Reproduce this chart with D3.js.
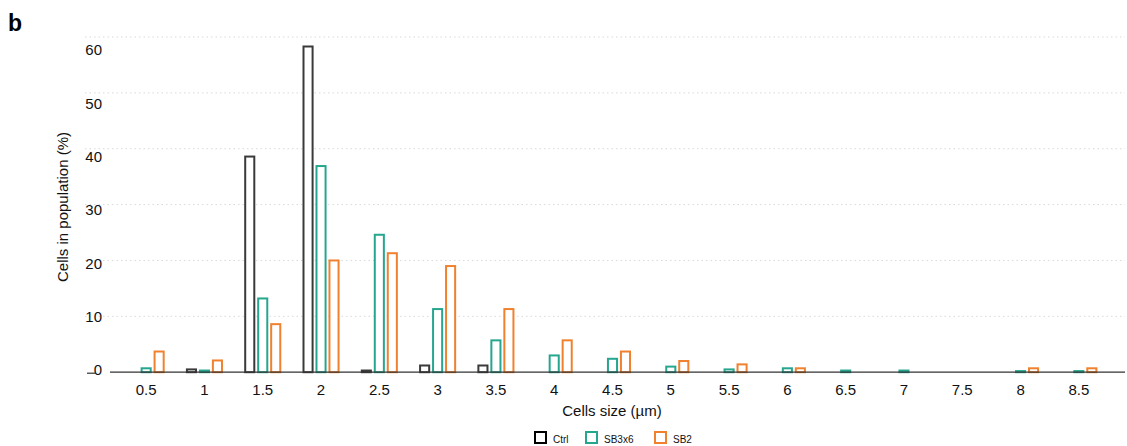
<!DOCTYPE html>
<html>
<head>
<meta charset="utf-8">
<script src="https://cdn.jsdelivr.net/npm/d3@7"></script>
<style>
  body { margin: 0; background: #fff; }
  text { font-family: "Liberation Sans", Arial, Helvetica, sans-serif; }
</style>
</head>
<body>
<div id="chart"></div>
<script>
// Data
var sizes = ["0.5", "1", "1.5", "2", "2.5", "3", "3.5", "4", "4.5", "5", "5.5", "6", "6.5", "7", "7.5", "8", "8.5"];
var seriesNames = ["Ctrl", "SB3x6", "SB2"];
var ctrl  = [0, 0.5, 38.6, 58.3, 0.3, 1.2, 1.2, 0, 0, 0, 0, 0, 0, 0, 0, 0, 0];
var sb3x6 = [0.7, 0.3, 13.2, 36.9, 24.6, 11.3, 5.7, 3.0, 2.4, 1.0, 0.5, 0.7, 0.3, 0.3, 0, 0.2, 0.2];
var sb2   = [3.7, 2.1, 8.6, 20.0, 21.3, 19.0, 11.3, 5.7, 3.7, 2.0, 1.4, 0.7, 0, 0, 0, 0.7, 0.7];
var yTicks = [0, 10, 20, 30, 40, 50, 60];
var colors = ["#3a3a3a", "#27a68f", "#f0812f"];

var svgWidth = 1127;
var svgHeight = 446;

var svg = d3.select("#chart")
  .append("svg")
  .attr("width", svgWidth)
  .attr("height", svgHeight);

// build rows
var values = [ctrl, sb3x6, sb2];
var data = sizes.map(function(s, i) {
  return { size: s, vals: seriesNames.map(function(n, j) { return { name: n, value: values[j][i], idx: j }; }) };
});

// scales
var x0 = d3.scaleBand()
  .domain(sizes)
  .range([117, 1108])
  .paddingInner(0.33)
  .paddingOuter(0.165);

var x1 = d3.scaleBand()
  .domain(seriesNames)
  .range([2, x0.bandwidth() - 2])
  .paddingInner(0.3);

var yScale = d3.scaleLinear()
  .domain([0, 60])
  .range([372.2, 37]);

// tick labels sit on their own spacing in the figure
var yLabelScale = d3.scaleLinear()
  .domain([0, 60])
  .range([370, 50]);

// gridlines
svg.append("g")
  .selectAll("line")
  .data(yTicks.filter(function(d) { return d > 0; }))
  .enter()
  .append("line")
  .attr("x1", 85)
  .attr("x2", 1125)
  .attr("y1", function(d) { return yScale(d); })
  .attr("y2", function(d) { return yScale(d); })
  .attr("stroke", "#d9d9d9")
  .attr("stroke-width", 1)
  .attr("stroke-dasharray", "1.5,3");

// y labels
svg.append("g")
  .selectAll("text")
  .data(yTicks)
  .enter()
  .append("text")
  .attr("x", 102)
  .attr("y", function(d) { return yLabelScale(d); })
  .attr("dy", "0.35em")
  .attr("text-anchor", "end")
  .attr("font-size", 15)
  .attr("fill", "#111")
  .text(function(d) { return d; });

// small mark under 0
svg.append("line")
  .attr("x1", 87).attr("x2", 96)
  .attr("y1", yScale(0) + 1).attr("y2", yScale(0) + 1)
  .attr("stroke", "#333")
  .attr("stroke-width", 1.2);

// bars
var groups = svg.append("g")
  .selectAll("g")
  .data(data)
  .enter()
  .append("g")
  .attr("transform", function(d) { return "translate(" + x0(d.size) + ",0)"; });

groups.selectAll("rect")
  .data(function(d) { return d.vals; })
  .enter()
  .append("rect")
  .attr("x", function(d) { return x1(d.name); })
  .attr("y", function(d) { return yScale(d.value); })
  .attr("width", x1.bandwidth())
  .attr("height", function(d) { return yScale(0) - yScale(d.value); })
  .attr("fill", "#fff")
  .attr("stroke", function(d) { return colors[d.idx]; })
  .attr("stroke-width", 2);

// baseline
svg.append("line")
  .attr("x1", 110)
  .attr("x2", 1125)
  .attr("y1", yScale(0))
  .attr("y2", yScale(0))
  .attr("stroke", "#333")
  .attr("stroke-width", 1.2);

// x labels
svg.append("g")
  .selectAll("text")
  .data(sizes)
  .enter()
  .append("text")
  .attr("x", function(d) { return x0(d) + x0.bandwidth() / 2; })
  .attr("y", 390)
  .attr("dy", "0.35em")
  .attr("text-anchor", "middle")
  .attr("font-size", 15)
  .attr("fill", "#111")
  .text(function(d) { return d; });

// axis titles
svg.append("text")
  .attr("x", 612)
  .attr("y", 411)
  .attr("dy", "0.35em")
  .attr("text-anchor", "middle")
  .attr("font-size", 15)
  .attr("fill", "#111")
  .text("Cells size (\u00b5m)");

svg.append("text")
  .attr("transform", "translate(63,207) rotate(-90)")
  .attr("dy", "0.35em")
  .attr("text-anchor", "middle")
  .attr("font-size", 15)
  .attr("fill", "#111")
  .text("Cells in population (%)");

// panel letter
svg.append("text")
  .attr("x", 8)
  .attr("y", 31)
  .attr("font-size", 23)
  .attr("font-weight", "bold")
  .attr("fill", "#000")
  .text("b");

// legend
var legendX = [535, 586, 655];
var legend = svg.append("g")
  .selectAll("g")
  .data(seriesNames)
  .enter()
  .append("g")
  .attr("transform", function(d, i) { return "translate(" + legendX[i] + ",432)"; });

legend.append("rect")
  .attr("width", 11)
  .attr("height", 11)
  .attr("fill", "#fff")
  .attr("stroke", function(d, i) { return i === 0 ? "#000" : colors[i]; })
  .attr("stroke-width", 2);

legend.append("text")
  .attr("x", 18)
  .attr("y", 7)
  .attr("dy", "0.35em")
  .attr("font-size", 10)
  .attr("fill", "#111")
  .text(function(d) { return d; });
</script>
</body>
</html>
